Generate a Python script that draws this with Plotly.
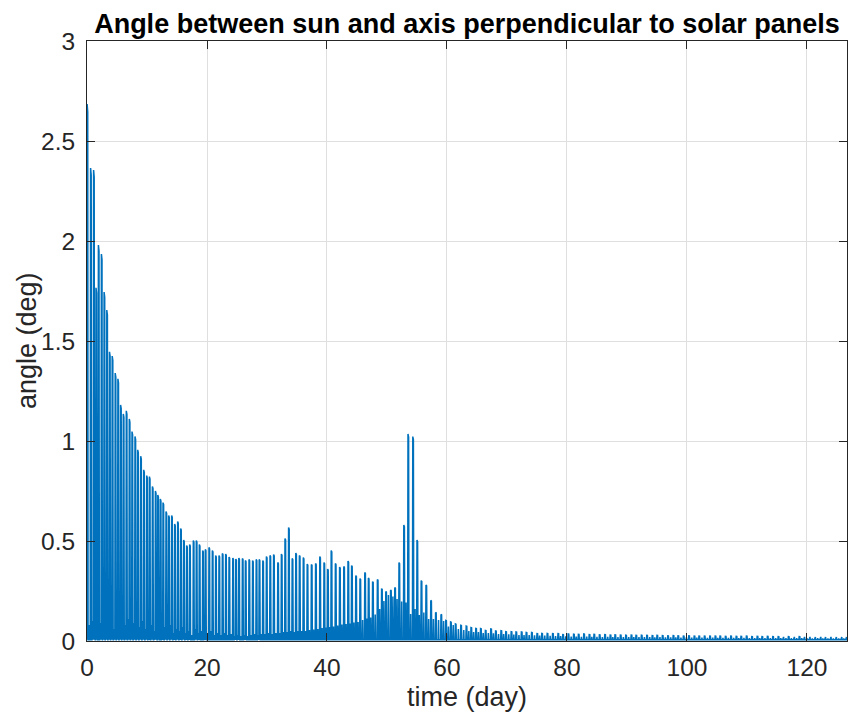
import plotly.graph_objects as go

# ---- data ----
# times (day) of the main spikes
spike_day = [
    0.02, 0.6, 1.1, 1.5, 1.9, 2.4, 2.85, 3.3, 3.75, 4.2, 4.7, 5.15, 5.6, 6.05, 6.55,
    7.05, 7.5, 8.0, 8.45, 8.95, 9.45, 9.95, 10.4, 10.9, 11.4,
    11.8, 12.22, 12.67, 13.17, 13.61, 14.11, 14.61, 15.11, 15.61, 16.11, 16.61, 17.11,
    17.72, 18.22, 18.72, 19.28, 19.72, 20.33, 20.89, 21.44, 22.0, 22.56, 23.11, 23.67,
    24.3, 24.8, 25.3, 25.9, 26.4, 27.0, 27.6, 28.2, 28.7, 29.3, 29.9, 30.5, 31.1, 31.8,
    32.4, 33.0, 33.6, 34.2, 34.8, 35.4, 36.05,
    36.7, 37.4, 38.1, 38.8, 39.5, 40.1, 40.7, 41.4, 42.1, 42.8, 43.5, 44.1, 44.8, 45.5,
    46.3, 46.9, 47.6, 48.4, 49.1,
    49.8, 50.6, 51.3, 52.0, 52.8, 53.5, 54.3, 55.0, 55.7, 56.5, 57.3, 58.1, 59.0, 59.8, 60.6,
    61.4, 62.3, 63.2, 64.0, 64.8, 65.6, 66.4, 67.3, 68.1, 69.0, 69.8, 70.7, 71.5, 72.4,
    73.2, 74.1, 75.0, 75.8, 76.7, 77.6, 78.5, 79.3,
    80.2, 81.1, 81.9, 82.8, 83.7, 84.5, 85.4, 86.3, 87.2, 88.0,
    88.9, 89.8, 90.7, 91.5, 92.4, 93.3, 94.2, 95.0, 95.9, 96.8,
    97.7, 98.5, 99.4, 100.3, 101.2, 102.0, 102.9, 103.8, 104.7, 105.5,
    106.4, 107.3, 108.2, 109.0, 109.9, 110.8, 111.7, 112.5, 113.4, 114.3,
    115.2, 116.0, 116.9, 117.8, 118.7, 119.5, 120.4, 121.3, 122.2, 123.0,
    123.9, 124.8, 125.7, 126.5,
]

# peak angle (deg) of each main spike
spike_peak = [
    2.685, 2.365, 2.355, 1.766, 1.98, 1.935, 1.745, 1.655, 1.446, 1.425, 1.34, 1.311, 1.18,
    1.135, 1.151, 1.11, 1.047, 1.023, 0.956, 0.924, 0.856, 0.827, 0.822, 0.773, 0.75,
    0.73, 0.71, 0.692, 0.648, 0.627, 0.627, 0.585, 0.597, 0.563, 0.505, 0.477, 0.482,
    0.502, 0.502, 0.482, 0.452, 0.458, 0.468, 0.452, 0.427, 0.427, 0.438, 0.435, 0.42,
    0.415, 0.41, 0.415, 0.413, 0.403, 0.408, 0.402, 0.408, 0.408, 0.402, 0.422, 0.428,
    0.432, 0.393, 0.435, 0.513, 0.568, 0.413, 0.44, 0.428, 0.417,
    0.385, 0.383, 0.388, 0.422, 0.392, 0.36, 0.452, 0.388, 0.37, 0.373, 0.4, 0.377,
    0.327, 0.312, 0.343, 0.315, 0.297, 0.308, 0.262,
    0.248, 0.255, 0.268, 0.392, 0.58, 1.035, 1.022, 0.505, 0.302, 0.28, 0.203, 0.143,
    0.133, 0.103, 0.095,
    0.085, 0.078, 0.075, 0.067, 0.063, 0.062, 0.053, 0.06, 0.05, 0.052, 0.047, 0.047,
    0.045, 0.045, 0.043, 0.043, 0.037, 0.038, 0.038, 0.037, 0.037, 0.032,
    0.035, 0.034, 0.033, 0.035, 0.032, 0.033, 0.031, 0.032, 0.030, 0.031,
    0.030, 0.029, 0.030, 0.028, 0.029, 0.028, 0.027, 0.028, 0.027, 0.026,
    0.027, 0.026, 0.025, 0.026, 0.025, 0.025, 0.024, 0.025, 0.024, 0.024,
    0.023, 0.024, 0.023, 0.023, 0.024, 0.022, 0.023, 0.022, 0.023, 0.022,
    0.022, 0.021, 0.022, 0.021, 0.022, 0.021, 0.021, 0.020, 0.021, 0.020,
    0.021, 0.020, 0.020, 0.020,
]

# smaller secondary bump that follows each main spike (deg)
minor_peak = [
    0.08, 0.1, 0.06, 0.11, 0.09, 0.05, 0.1, 0.07, 0.12, 0.06, 0.09, 0.1, 0.05, 0.08, 0.11,
    0.06, 0.09, 0.05, 0.07, 0.1, 0.06, 0.04, 0.08, 0.05, 0.07,
    0.06, 0.04, 0.07, 0.05, 0.08, 0.04, 0.06, 0.05, 0.07, 0.04, 0.05, 0.03, 0.06, 0.04,
    0.05, 0.03, 0.04, 0.05, 0.03, 0.04, 0.03, 0.04, 0.03, 0.035,
    0.025, 0.03, 0.025, 0.03, 0.025, 0.03, 0.035, 0.03, 0.035, 0.035, 0.04, 0.035, 0.04,
    0.04, 0.045, 0.045, 0.05, 0.045, 0.05, 0.05, 0.05,
    0.055, 0.058, 0.06, 0.065, 0.067, 0.07, 0.073, 0.077, 0.083, 0.085, 0.087, 0.092,
    0.095, 0.105, 0.112, 0.118, 0.133, 0.16, 0.2,
    0.23, 0.222, 0.21, 0.197, 0.193, 0.135, 0.16, 0.13, 0.142, 0.11, 0.11, 0.105, 0.1,
    0.072, 0.08,
    0.06, 0.055, 0.05, 0.045, 0.045, 0.04, 0.04, 0.038, 0.035, 0.035, 0.033, 0.032, 0.03,
    0.03, 0.03, 0.028, 0.027, 0.027, 0.026, 0.025, 0.025, 0.024,
    0.022, 0.022, 0.021, 0.022, 0.021, 0.021, 0.02, 0.021, 0.02, 0.02,
    0.02, 0.019, 0.02, 0.019, 0.019, 0.019, 0.018, 0.019, 0.018, 0.018,
    0.018, 0.017, 0.018, 0.017, 0.017, 0.017, 0.016, 0.017, 0.016, 0.016,
    0.016, 0.016, 0.015, 0.016, 0.015, 0.015, 0.015, 0.015, 0.015, 0.014,
    0.015, 0.014, 0.014, 0.014, 0.014, 0.014, 0.013, 0.014, 0.013, 0.013,
    0.013, 0.013, 0.013, 0.013,
]

x_ticks = [0, 20, 40, 60, 80, 100, 120]
y_ticks = [0, 0.5, 1, 1.5, 2, 2.5, 3]

# ---- build the oscillating trace from the spike list ----
BASE = 0.006
xs, ys = [], []
n = len(spike_day)
for i, (t, p, s) in enumerate(zip(spike_day, spike_peak, minor_peak)):
    nxt = spike_day[i + 1] if i + 1 < n else t + 0.87
    gap = nxt - t
    xs += [t - 0.06, t, t + 0.1, t + 0.16]
    ys += [BASE, p, p * 0.985, BASE]
    tm = t + 0.55 * gap
    xs += [tm - 0.05, tm, tm + 0.05]
    ys += [BASE, s, BASE]
xs.append(127.5)
ys.append(BASE)

BLUE = "#0072BD"
AX = "#262626"
FONT = "Liberation Sans, Arial, Helvetica, sans-serif"

fig = go.Figure()
fig.add_trace(go.Scatter(x=xs, y=ys, mode="lines",
                         line=dict(color=BLUE, width=1.5), hoverinfo="skip",
                         showlegend=False))

W, H = 848, 717
L, R, T, B = 87, 1, 41, 76
fig.update_layout(
    width=W, height=H,
    margin=dict(l=L, r=R, t=T, b=B),
    paper_bgcolor="white", plot_bgcolor="white",
    font=dict(family=FONT, color=AX, size=24),
    title=dict(text="<b>Angle between sun and axis perpendicular to solar panels</b>",
               x=0.5, xref="paper", xanchor="center",
               y=1 - 24 / H, yref="container", yanchor="middle",
               font=dict(family=FONT, size=27, color="black")),
    xaxis=dict(range=[0, 126.67], tickvals=x_ticks, ticktext=[str(v) for v in x_ticks],
               showgrid=True, gridcolor="#dfdfdf", gridwidth=1,
               showline=True, linecolor=AX, linewidth=1, mirror="ticks",
               ticks="inside", ticklen=8, tickcolor=AX, tickwidth=1,
               zeroline=False, tickfont=dict(size=24.5, color=AX),
               ticklabelstandoff=5),
    yaxis=dict(range=[0, 3], tickvals=y_ticks,
               ticktext=["0", "0.5", "1", "1.5", "2", "2.5", "3"],
               showgrid=True, gridcolor="#dfdfdf", gridwidth=1,
               showline=True, linecolor=AX, linewidth=1, mirror="ticks",
               ticks="inside", ticklen=8, tickcolor=AX, tickwidth=1,
               zeroline=False, tickfont=dict(size=24.5, color=AX),
               ticklabelstandoff=6),
    annotations=[
        dict(text="time (day)", x=0.5, xref="paper", y=-(697 - 641) / 600, yref="paper",
             xanchor="center", yanchor="middle", showarrow=False,
             font=dict(family=FONT, size=27, color=AX)),
        dict(text="angle (deg)", x=(27 - L) / 760, xref="paper", y=0.5, yref="paper",
             xanchor="center", yanchor="middle", textangle=-90, showarrow=False,
             font=dict(family=FONT, size=27, color=AX)),
    ],
)

fig.write_html("out.html")
